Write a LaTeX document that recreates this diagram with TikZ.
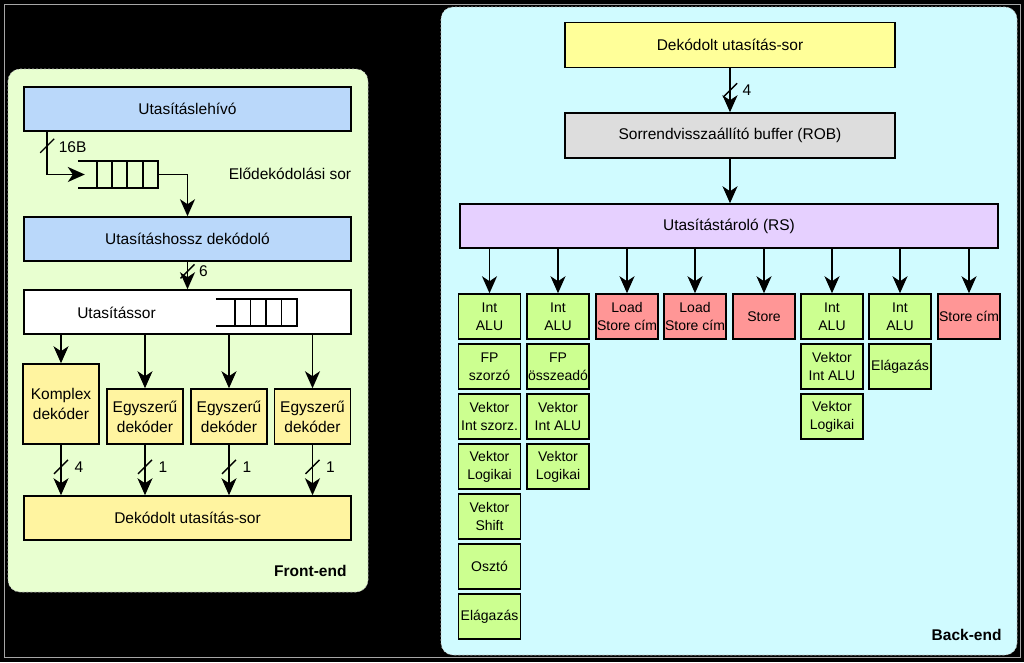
\documentclass[tikz,border=0pt]{standalone}
\usepackage{fontspec}
\setmainfont{Liberation Sans}
\usetikzlibrary{arrows.meta,calc}

\definecolor{feback}{RGB}{232,255,208}
\definecolor{beback}{RGB}{208,251,255}
\definecolor{kek}{RGB}{186,216,250}
\definecolor{sarga}{RGB}{255,244,160}
\definecolor{vsarga}{RGB}{255,255,153}
\definecolor{szurke}{RGB}{221,221,221}
\definecolor{lila}{RGB}{230,208,255}
\definecolor{zold}{RGB}{204,255,144}
\definecolor{piros}{RGB}{255,150,150}

\begin{document}
\begin{tikzpicture}[x=1pt,y=1pt,yscale=-1,xscale=1,
  doboz/.style={draw=black, line width=1.5pt, inner sep=0pt, align=center, font=\fontsize{15.5}{20}\selectfont},
  egyseg/.style={draw=black, line width=1.5pt, inner sep=0pt, minimum width=62, minimum height=45, align=center, font=\fontsize{14}{18}\selectfont},
  nyil/.style={line width=1.6pt, -{Stealth[length=17pt,width=15pt,inset=5pt]}},
  busz/.style={line width=1.4pt},
  cimke/.style={font=\fontsize{15.5}{18}\selectfont},
  keret/.style={draw=white!75!black, line width=0.6pt, dash pattern=on 2pt off 2pt, rounded corners=12}]

%Background
\fill[black] (0,0) rectangle (1024,662);
\useasboundingbox (0,0) rectangle (1024,662);
\draw[gray!70, line width=0.8pt] (4,4) rectangle (1020,657);

%Shape: Front-end frame
\draw[keret, fill=feback] (8,69) rectangle (368,592);
%Shape: Back-end frame
\draw[keret, fill=beback] (441,7) rectangle (1017,655);

% Front-end
\node[doboz, fill=kek, minimum width=327, minimum height=44] (lehivo) at (187.5,109) {Utasításlehívó};
\node[minimum width=80, minimum height=27, inner sep=0pt] (elosor) at (118,174.5) {};
\draw[line width=1.5pt] (elosor.north west) -- (elosor.north east) -- (elosor.south east) -- (elosor.south west);
\foreach \x in {97,112,127,143} \draw[line width=1.5pt] (\x,161) -- (\x,188);
\node[cimke] (elolbl) at (290,174) {Elődekódolási sor};

\node[doboz, fill=kek, minimum width=327, minimum height=44] (hosszdek) at (187.5,239) {Utasításhossz dekódoló};
\node[doboz, fill=white, minimum width=327, minimum height=44] (utsor) at (187.5,312) {};
\node[cimke] (utsorlbl) at (116.5,313) {Utasítássor};
\node[minimum width=81, minimum height=27, inner sep=0pt] (utqueue) at (256.5,312.5) {};
\draw[line width=1.5pt] (utqueue.north west) -- (utqueue.north east) -- (utqueue.south east) -- (utqueue.south west);
\foreach \x in {235,250.5,266,281.5} \draw[line width=1.5pt] (\x,299) -- (\x,326);

\node[doboz, fill=sarga, minimum width=76, minimum height=80] (komplex) at (61,404) {Komplex\\dekóder};
\node[doboz, fill=sarga, minimum width=76, minimum height=55] (egysz1) at (145,416.5) {Egyszerű\\dekóder};
\node[doboz, fill=sarga, minimum width=76, minimum height=55] (egysz2) at (229,416.5) {Egyszerű\\dekóder};
\node[doboz, fill=sarga, minimum width=76, minimum height=55] (egysz3) at (312.5,416.5) {Egyszerű\\dekóder};
\node[doboz, fill=sarga, minimum width=327, minimum height=44] (fdsor) at (187.5,518) {Dekódolt utasítás-sor};
\node[font=\bfseries\fontsize{15.5}{18}\selectfont, anchor=east] (felbl) at (350,571) {Front-end};

% Front-end connectors
\coordinate (b16) at ($(lehivo.south west)+(24,14)$);
\draw[nyil] ($(lehivo.south west)+(24,0)$) |- ($(elosor.west)+(7,0)$);
\draw[busz] (b16) ++(-7,7) -- ++(14,-14);
\node[cimke, anchor=west] (l16) at ($(b16)+(8,1)$) {16B};
\draw[nyil] (elosor.east) -| (hosszdek.north);

\draw[nyil] (hosszdek) -- coordinate[pos=.35] (b6) (utsor);
\draw[busz] (b6) ++(-7,7) -- ++(14,-14);
\node[cimke] (l6) at ($(b6)+(16,0)$) {6};

\draw[nyil] (komplex |- utsor.south) -- (komplex);
\draw[nyil] (egysz1 |- utsor.south) -- (egysz1);
\draw[nyil] (egysz2 |- utsor.south) -- (egysz2);
\draw[nyil] (egysz3 |- utsor.south) -- (egysz3);

\draw[nyil] (komplex) -- coordinate[pos=.44] (bk) (komplex |- fdsor.north);
\draw[busz] (bk) ++(-7,7) -- ++(14,-14);
\node[cimke] (lk) at ($(bk)+(18,0)$) {4};
\draw[nyil] (egysz1) -- coordinate[pos=.44] (be1) (egysz1 |- fdsor.north);
\draw[busz] (be1) ++(-7,7) -- ++(14,-14);
\node[cimke] (le1) at ($(be1)+(18,0)$) {1};
\draw[nyil] (egysz2) -- coordinate[pos=.44] (be2) (egysz2 |- fdsor.north);
\draw[busz] (be2) ++(-7,7) -- ++(14,-14);
\node[cimke] (le2) at ($(be2)+(18,0)$) {1};
\draw[nyil] (egysz3) -- coordinate[pos=.44] (be3) (egysz3 |- fdsor.north);
\draw[busz] (be3) ++(-7,7) -- ++(14,-14);
\node[cimke] (le3) at ($(be3)+(18,0)$) {1};

% Back-end
\node[doboz, fill=vsarga, minimum width=330, minimum height=45] (bdsor) at (730,45) {Dekódolt utasítás-sor};
\node[doboz, fill=szurke, minimum width=330, minimum height=45] (rob) at (730,135.5) {Sorrendvisszaállító buffer (ROB)};
\node[doboz, fill=lila, minimum width=538, minimum height=44] (rs) at (729,226) {Utasítástároló (RS)};
\node[font=\bfseries\fontsize{15.5}{18}\selectfont, anchor=east] (belbl) at (1005,635) {Back-end};

% Execution units
\node[egyseg, fill=zold] (a1) at (489.5,316.5) {Int\\ALU};
\node[egyseg, fill=zold] (a2) at (489.5,366.5) {FP\\szorzó};
\node[egyseg, fill=zold] (a3) at (489.5,416.5) {Vektor\\Int szorz.};
\node[egyseg, fill=zold] (a4) at (489.5,466.5) {Vektor\\Logikai};
\node[egyseg, fill=zold] (a5) at (489.5,516.5) {Vektor\\Shift};
\node[egyseg, fill=zold] (a6) at (489.5,566.5) {Osztó};
\node[egyseg, fill=zold] (a7) at (489.5,616.5) {Elágazás};
\node[egyseg, fill=zold] (b1) at (558,316.5) {Int\\ALU};
\node[egyseg, fill=zold] (b2) at (558,366.5) {FP\\összeadó};
\node[egyseg, fill=zold] (b3) at (558,416.5) {Vektor\\Int ALU};
\node[egyseg, fill=zold] (b4) at (558,466.5) {Vektor\\Logikai};
\node[egyseg, fill=piros] (c1) at (627,316.5) {Load\\Store cím};
\node[egyseg, fill=piros] (d1) at (695,316.5) {Load\\Store cím};
\node[egyseg, fill=piros] (e1) at (764,316.5) {Store};
\node[egyseg, fill=zold] (f1) at (832,316.5) {Int\\ALU};
\node[egyseg, fill=zold] (f2) at (832,366.5) {Vektor\\Int ALU};
\node[egyseg, fill=zold] (f3) at (832,416.5) {Vektor\\Logikai};
\node[egyseg, fill=zold] (g1) at (900,316.5) {Int\\ALU};
\node[egyseg, fill=zold] (g2) at (900,366.5) {Elágazás};
\node[egyseg, fill=piros] (h1) at (969,316.5) {Store cím};

% Back-end connectors
\draw[nyil] (bdsor) -- coordinate[pos=.5] (bb4) (rob);
\draw[busz] (bb4) ++(-7,7) -- ++(14,-14);
\node[cimke] (lb4) at ($(bb4)+(17,0)$) {4};
\draw[nyil] (rob) -- (rob |- rs.north);
\foreach \u in {a1,b1,c1,d1,e1,f1,g1,h1}
  \draw[nyil] (\u |- rs.south) -- (\u);

\end{tikzpicture}
\end{document}
